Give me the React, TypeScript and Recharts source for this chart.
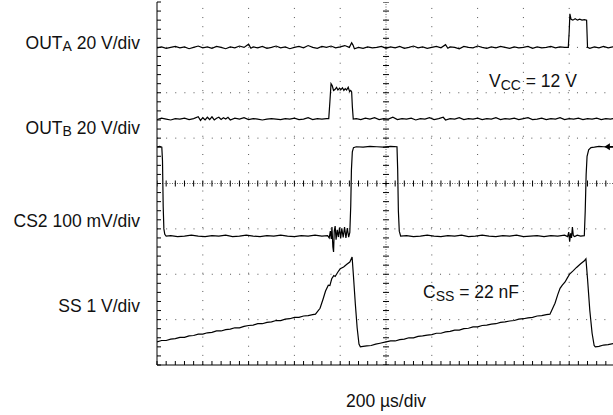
import { ComposedChart, Line, XAxis, YAxis, ReferenceLine, ReferenceDot, Scatter } from "recharts";

// time in microseconds (200 us/div), level in screen divisions (0 = bottom of graticule)
const timeDivs = [0, 200, 400, 600, 800, 1000, 1200, 1400, 1600, 1800, 2000];
const levelDivs = [0, 1, 2, 3, 4, 5, 6, 7, 8];

const outA: [number, number][] = [
    [0, 6.99], [20, 7.01], [40, 6.98], [60, 7.0], [80, 7.02], [100, 6.99], [120, 7.01], [140, 6.97],
    [160, 7.0], [180, 7.03], [200, 6.99], [220, 7.01], [240, 6.98], [260, 7.02], [280, 7.0], [300, 6.97],
    [320, 7.01], [340, 6.99], [360, 7.03], [380, 7.0], [400, 7.07], [410, 6.98], [420, 7.01], [440, 6.99],
    [460, 7.02], [480, 6.98], [500, 7.0], [520, 7.03], [540, 6.99], [560, 7.01], [580, 6.97], [600, 7.0],
    [620, 7.02], [640, 6.99], [660, 7.04], [680, 7.0], [700, 6.98], [720, 7.02], [740, 7.0], [760, 7.03],
    [780, 6.99], [800, 7.01], [820, 7.04], [840, 7.0], [850, 7.1], [856, 7.05], [862, 6.97], [880, 7.0],
    [900, 6.98], [920, 7.01], [940, 6.99], [960, 7.0], [980, 7.02], [1000, 6.98], [1020, 7.01], [1040, 6.99],
    [1060, 7.02], [1080, 6.98], [1100, 7.0], [1120, 7.03], [1140, 6.99], [1160, 7.01], [1180, 6.98], [1200, 7.0],
    [1220, 7.02], [1240, 6.99], [1260, 7.06], [1270, 6.98], [1280, 7.01], [1300, 7.0], [1320, 6.97], [1340, 7.02],
    [1360, 7.0], [1380, 6.99], [1400, 7.03], [1420, 7.0], [1440, 6.98], [1460, 7.01], [1480, 6.99], [1500, 7.02],
    [1520, 7.0], [1540, 6.98], [1560, 7.01], [1580, 6.99], [1600, 7.0], [1620, 7.02], [1640, 6.98], [1660, 7.01],
    [1680, 6.99], [1700, 7.0], [1720, 7.02], [1740, 6.99], [1760, 7.01], [1780, 7.0], [1796, 7.0], [1800, 7.35],
    [1803, 7.74], [1808, 7.62], [1816, 7.6], [1826, 7.63], [1836, 7.6], [1846, 7.62], [1856, 7.6], [1866, 7.61],
    [1876, 7.6], [1878, 7.3], [1880, 7.0], [1890, 6.98], [1910, 7.01], [1930, 6.99], [1950, 7.02], [1970, 6.99],
    [1990, 7.01], [2000, 7.0],
];

const outB: [number, number][] = [
    [0, 5.41], [20, 5.44], [40, 5.42], [60, 5.4], [80, 5.43], [100, 5.42], [120, 5.44], [140, 5.41],
    [160, 5.43], [180, 5.47], [190, 5.39], [200, 5.45], [210, 5.4], [220, 5.46], [230, 5.41], [240, 5.47],
    [250, 5.4], [260, 5.44], [270, 5.46], [280, 5.41], [290, 5.45], [300, 5.42], [310, 5.46], [320, 5.4],
    [340, 5.44], [360, 5.42], [380, 5.45], [400, 5.41], [420, 5.43], [440, 5.42], [460, 5.4], [480, 5.42],
    [500, 5.43], [520, 5.42], [540, 5.41], [560, 5.43], [580, 5.42], [600, 5.44], [620, 5.41], [640, 5.42],
    [660, 5.45], [680, 5.41], [700, 5.43], [720, 5.42], [740, 5.43], [750, 5.43], [755, 5.8], [760, 6.2],
    [765, 6.16], [771, 6.05], [777, 6.07], [784, 6.12], [790, 6.06], [797, 6.1], [803, 6.07], [810, 6.11],
    [816, 6.05], [822, 6.09], [828, 6.06], [835, 6.12], [841, 6.03], [846, 6.05], [850, 6.02], [853, 5.7],
    [857, 5.42], [870, 5.43], [890, 5.41], [910, 5.44], [930, 5.42], [950, 5.45], [970, 5.41], [990, 5.43],
    [1010, 5.42], [1030, 5.46], [1050, 5.41], [1070, 5.43], [1090, 5.42], [1110, 5.44], [1130, 5.4], [1150, 5.43],
    [1170, 5.42], [1190, 5.45], [1210, 5.41], [1230, 5.43], [1250, 5.46], [1260, 5.4], [1280, 5.43], [1300, 5.42],
    [1320, 5.45], [1340, 5.41], [1360, 5.43], [1380, 5.42], [1400, 5.44], [1420, 5.41], [1440, 5.43], [1460, 5.42],
    [1480, 5.45], [1500, 5.41], [1520, 5.43], [1540, 5.42], [1560, 5.44], [1580, 5.41], [1600, 5.43], [1620, 5.45],
    [1640, 5.41], [1660, 5.42], [1680, 5.44], [1700, 5.41], [1720, 5.43], [1740, 5.42], [1760, 5.45], [1780, 5.41],
    [1800, 5.43], [1820, 5.42], [1840, 5.44], [1860, 5.41], [1880, 5.43], [1900, 5.42], [1920, 5.44], [1940, 5.41],
    [1960, 5.43], [1980, 5.42], [2000, 5.44],
];

const cs2: [number, number][] = [
    [0, 4.81], [12, 4.82], [21, 4.8], [24, 4.5], [27, 3.5], [30, 3.0], [34, 2.88], [40, 2.84],
    [60, 2.85], [90, 2.83], [120, 2.84], [150, 2.86], [180, 2.84], [210, 2.83], [240, 2.85], [270, 2.84],
    [300, 2.86], [330, 2.83], [360, 2.84], [390, 2.86], [420, 2.84], [450, 2.83], [480, 2.85], [510, 2.84],
    [540, 2.86], [570, 2.84], [600, 2.83], [630, 2.85], [660, 2.84], [690, 2.86], [720, 2.84], [745, 2.85],
    [752, 2.8], [757, 2.95], [761, 2.78], [764, 3.04], [768, 2.6], [771, 2.49], [774, 2.95], [778, 3.06],
    [782, 2.76], [787, 2.98], [792, 2.82], [797, 3.03], [802, 2.79], [807, 3.01], [813, 2.81], [819, 3.04],
    [825, 2.8], [831, 3.02], [837, 2.82], [842, 2.92], [846, 3.5], [849, 4.3], [853, 4.7], [858, 4.79],
    [870, 4.81], [900, 4.8], [930, 4.82], [960, 4.81], [990, 4.8], [1020, 4.82], [1048, 4.81], [1051, 4.3],
    [1054, 3.4], [1058, 2.95], [1064, 2.84], [1090, 2.85], [1120, 2.83], [1150, 2.84], [1180, 2.86], [1210, 2.84],
    [1240, 2.83], [1270, 2.85], [1300, 2.84], [1330, 2.86], [1360, 2.83], [1390, 2.84], [1420, 2.86], [1450, 2.84],
    [1480, 2.83], [1510, 2.85], [1540, 2.84], [1570, 2.86], [1600, 2.83], [1630, 2.84], [1660, 2.85], [1690, 2.83],
    [1720, 2.85], [1750, 2.84], [1780, 2.86], [1793, 2.83], [1798, 2.93], [1802, 2.72], [1806, 2.9], [1810, 2.8],
    [1814, 3.04], [1818, 2.85], [1824, 2.83], [1835, 2.86], [1850, 2.84], [1866, 2.85], [1870, 3.4], [1874, 4.2],
    [1878, 4.6], [1885, 4.74], [1895, 4.79], [1910, 4.8], [1930, 4.82], [1950, 4.81], [1970, 4.8], [2000, 4.81],
];

const ss: [number, number][] = [
    [0, 0.51], [20, 0.54], [40, 0.54], [60, 0.57], [80, 0.58], [100, 0.61], [120, 0.61], [140, 0.64],
    [160, 0.65], [180, 0.68], [200, 0.68], [220, 0.71], [240, 0.72], [260, 0.75], [280, 0.75], [300, 0.78],
    [320, 0.79], [340, 0.82], [360, 0.82], [380, 0.85], [400, 0.87], [420, 0.88], [440, 0.91], [460, 0.91],
    [480, 0.94], [500, 0.95], [520, 0.98], [540, 0.98], [560, 1.01], [580, 1.02], [600, 1.05], [620, 1.05],
    [640, 1.08], [660, 1.09], [680, 1.11], [692, 1.12], [712, 1.25], [725, 1.45], [736, 1.63], [748, 1.76],
    [755, 1.75], [763, 1.9], [772, 1.97], [778, 1.95], [790, 2.05], [800, 2.12], [815, 2.16], [829, 2.22],
    [842, 2.27], [852, 2.38], [858, 1.95], [866, 1.35], [874, 0.82], [882, 0.46], [888, 0.4], [900, 0.41],
    [916, 0.42], [935, 0.43], [955, 0.46], [974, 0.48], [1000, 0.51], [1020, 0.53], [1040, 0.53], [1060, 0.56],
    [1080, 0.57], [1100, 0.6], [1120, 0.6], [1140, 0.63], [1160, 0.64], [1180, 0.66], [1200, 0.67], [1220, 0.7],
    [1240, 0.7], [1260, 0.73], [1280, 0.74], [1300, 0.77], [1320, 0.77], [1340, 0.8], [1360, 0.81], [1380, 0.84],
    [1400, 0.84], [1420, 0.87], [1440, 0.88], [1460, 0.9], [1480, 0.91], [1500, 0.94], [1520, 0.95], [1540, 0.97],
    [1560, 0.98], [1580, 1.01], [1600, 1.02], [1620, 1.04], [1640, 1.05], [1660, 1.08], [1680, 1.09], [1700, 1.11],
    [1716, 1.12], [1738, 1.36], [1750, 1.55], [1760, 1.69], [1770, 1.76], [1782, 1.83], [1792, 1.92], [1803, 2.01],
    [1818, 2.08], [1832, 2.15], [1850, 2.23], [1865, 2.29], [1873, 2.34], [1880, 1.9], [1890, 1.2], [1900, 0.7],
    [1909, 0.43], [1914, 0.4], [1930, 0.41], [1950, 0.44], [1970, 0.45], [2000, 0.48],
];

// channel marker on the right edge
const cs2Marker = { t: 1969, v: 4.81 };

const toPts = (arr: [number, number][]) => arr.map(([t, v]) => ({ t, v }));

// graticule: 5 minor ticks per division
const minorTime = timeDivs.slice(0, -1).flatMap((t) => [t, t + 40, t + 80, t + 120, t + 160]).concat([2000]);
const minorLevel = levelDivs.slice(0, -1).flatMap((v) => [v, v + 0.2, v + 0.4, v + 0.6, v + 0.8]).concat([8]);
const centerHTicks = minorTime.map((t) => ({ t, v: 4 }));
const centerVTicks = minorLevel.map((v) => ({ t: 1000, v }));

const font = "'Liberation Sans', Arial, sans-serif";
const dots = "1 8.13";

const VTick = (props: any) => <line x1={props.cx} x2={props.cx} y1={props.cy - 3} y2={props.cy + 3} stroke="#000" strokeWidth={1} />;
const HTick = (props: any) => <line x1={props.cx - 3} x2={props.cx + 3} y1={props.cy} y2={props.cy} stroke="#000" strokeWidth={1} />;
const Arrow = (props: any) => {
    const { cx, cy } = props;
    return (
        <g>
            <path d={`M${cx - 3.5},${cy} L${cx + 2},${cy - 3.5} L${cx + 2},${cy + 3.5} Z`} fill="#000" />
            <line x1={cx + 2} x2={cx + 6} y1={cy} y2={cy} stroke="#000" strokeWidth={1.5} />
        </g>
    );
};

export default function App() {
    return (
        <div style={{ position: "absolute", left: 0, top: 0, width: 613, height: 415, overflow: "hidden", background: "#fff" }}>
            <ComposedChart width={640} height={415} margin={{ top: 2, right: 25, bottom: 50, left: 157 }}>
                <XAxis dataKey="t" type="number" domain={[0, 2000]} allowDataOverflow ticks={minorTime} mirror
                    tickSize={4} tickFormatter={() => ""} stroke="#000" />
                <XAxis xAxisId="top" orientation="top" dataKey="t" type="number" domain={[0, 2000]} allowDataOverflow
                    ticks={minorTime} mirror height={0} tickSize={4} tickFormatter={() => ""} stroke="#000" />
                <YAxis dataKey="v" type="number" domain={[0, 8]} allowDataOverflow ticks={minorLevel} mirror
                    tickSize={4} tickFormatter={() => ""} stroke="#000" />

                {timeDivs.filter((t) => t !== 0 && t !== 1000 && t !== 2000).map((t) => (
                    <ReferenceLine key={"vx" + t} x={t} stroke="#555" strokeDasharray={dots} />
                ))}
                {levelDivs.filter((v) => v !== 0 && v !== 4 && v !== 8).map((v) => (
                    <ReferenceLine key={"hy" + v} y={v} stroke="#555" strokeDasharray={dots} />
                ))}
                <ReferenceLine x={1000} stroke="#666" strokeDasharray="1 1.5" />
                <ReferenceLine y={4} stroke="#666" strokeDasharray="1 1.5" />
                <Scatter data={centerHTicks} shape={VTick} isAnimationActive={false} />
                <Scatter data={centerVTicks} shape={HTick} isAnimationActive={false} />

                <Line data={toPts(outA)} xAxisId="top" dataKey="v" type="linear" stroke="#000" strokeWidth={1.2} dot={false} activeDot={false} isAnimationActive={false} />
                <Line data={toPts(outB)} dataKey="v" type="linear" stroke="#000" strokeWidth={1.2} dot={false} activeDot={false} isAnimationActive={false} />
                <Line data={toPts(cs2)} dataKey="v" type="linear" stroke="#000" strokeWidth={1.2} dot={false} activeDot={false} isAnimationActive={false} />
                <Line data={toPts(ss)} dataKey="v" type="linear" stroke="#000" strokeWidth={1.2} dot={false} activeDot={false} isAnimationActive={false} />
                <ReferenceDot x={cs2Marker.t} y={cs2Marker.v} shape={Arrow} />
            </ComposedChart>

            <svg width={613} height={415} style={{ position: "absolute", left: 0, top: 0, pointerEvents: "none" }}
                fontFamily={font} fontSize={17.5} fill="#111">
                <text x={140} y={48.5} textAnchor="end">OUT<tspan fontSize={14} dy={2.5}>A</tspan><tspan dy={-2.5}> 20 V/div</tspan></text>
                <text x={140} y={133.5} textAnchor="end">OUT<tspan fontSize={14} dy={2.5}>B</tspan><tspan dy={-2.5}> 20 V/div</tspan></text>
                <text x={140} y={227} textAnchor="end">CS2 100 mV/div</text>
                <text x={140} y={312} textAnchor="end">SS 1 V/div</text>
                <text x={489} y={86.5}>V<tspan fontSize={14} dy={3}>CC</tspan><tspan dy={-3}> = 12 V</tspan></text>
                <text x={423} y={298}>C<tspan fontSize={14} dy={3}>SS</tspan><tspan dy={-3}> = 22 nF</tspan></text>
                <text x={386} y={407} textAnchor="middle">200 µs/div</text>
            </svg>
        </div>
    );
}
